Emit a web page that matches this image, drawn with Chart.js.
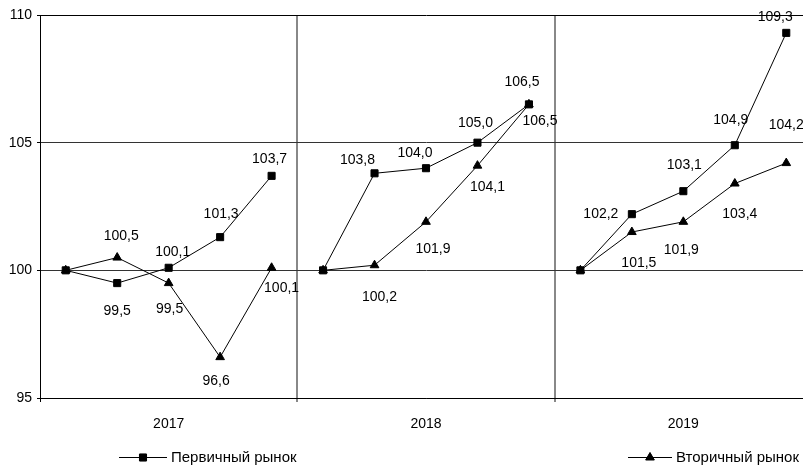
<!DOCTYPE html>
<html>
<head>
<meta charset="utf-8">
<script src="https://cdn.jsdelivr.net/npm/chart.js@4/dist/chart.umd.min.js"></script>
<style>
  html, body { margin: 0; padding: 0; background: #fff; overflow: hidden; }
  #priceChart { position: absolute; left: 0; top: 0; }
</style>
</head>
<body>
<canvas id="priceChart" width="818" height="466"></canvas>
<script>
const categories = ['2017', '2017', '2017', '2017', '2017',
                    '2018', '2018', '2018', '2018', '2018',
                    '2019', '2019', '2019', '2019', '2019'];
const primaryMarket = [100, 99.5, 100.1, 101.3, 103.7, 100, 103.8, 104.0, 105.0, 106.5, 100, 102.2, 103.1, 104.9, 109.3];
const secondaryMarket = [100, 100.5, 99.5, 96.6, 100.1, 100, 100.2, 101.9, 104.1, 106.5, 100, 101.5, 101.9, 103.4, 104.2];
const yTicks = [95, 100, 105, 110];
const seriesNames = ['Первичный рынок', 'Вторичный рынок'];

// label placement relative to the point (style only)
const primaryLabelOffset = [null, [0, 28], [4, -16], [1, -23], [-2, -17],
                            null, [-17, -13], [-11, -15], [-2, -20], [-7, -22],
                            null, [-31, 0], [1, -26], [-4, -25], [-11, -16]];
const secondaryLabelOffset = [null, [4, -21], [1, 26], [-4, 24], [10, 20],
                              null, [5, 32], [7, 27], [10, 21], [11, 17],
                              null, [7, 31], [-2, 28], [5, 31], [0, -38]];

const FONT = '"Liberation Sans", Arial, sans-serif';

document.addEventListener('DOMContentLoaded', function() {
    renderChart();
});

function fmt(v) {
    return v.toFixed(1).replace('.', ',');
}

const valueLabels = {
    id: 'valueLabels',
    afterDatasetsDraw(chart) {
        const ctx = chart.ctx;
        const offsets = [primaryLabelOffset, secondaryLabelOffset];
        ctx.save();
        ctx.font = '14px ' + FONT;
        ctx.fillStyle = '#000';
        ctx.textAlign = 'center';
        ctx.textBaseline = 'middle';
        chart.data.datasets.forEach((ds, i) => {
            const meta = chart.getDatasetMeta(i);
            meta.data.forEach((pt, j) => {
                const off = offsets[i][j];
                if (!off) return;
                ctx.fillText(fmt(ds.data[j]), pt.x + off[0], pt.y + off[1]);
            });
        });
        ctx.restore();
    }
};

const bottomLegend = {
    id: 'bottomLegend',
    afterDraw(chart) {
        const ctx = chart.ctx;
        const items = [
            { x0: 119, x1: 167, style: 'rect', text: seriesNames[0] },
            { x0: 628, x1: 672, style: 'triangle', text: seriesNames[1] }
        ];
        const y = 457.5;
        ctx.save();
        items.forEach(it => {
            ctx.strokeStyle = '#000';
            ctx.lineWidth = 1;
            ctx.beginPath();
            ctx.moveTo(it.x0, y);
            ctx.lineTo(it.x1, y);
            ctx.stroke();
            Chart.helpers.drawPoint(ctx, {
                pointStyle: it.style, radius: 5, borderWidth: 1,
                rotation: 0
            }, (it.x0 + it.x1) / 2, y);
            ctx.fillStyle = '#000';
            ctx.fill();
            ctx.font = '15px ' + FONT;
            ctx.textAlign = 'left';
            ctx.textBaseline = 'middle';
            ctx.fillText(it.text, it.x1 + 4, y);
        });
        ctx.restore();
    }
};

function renderChart() {
    const ctx = document.getElementById('priceChart').getContext('2d');
    const hideGap = c => (c.p0DataIndex % 5 === 4 ? 'rgba(0,0,0,0)' : '#000');

    new Chart(ctx, {
        type: 'line',
        data: {
            labels: categories,
            datasets: [
                {
                    label: seriesNames[0],
                    data: primaryMarket,
                    borderColor: '#000',
                    borderWidth: 1,
                    pointStyle: 'rect',
                    pointRadius: 5,
                    pointBorderWidth: 1,
                    pointBackgroundColor: '#000',
                    pointBorderColor: '#000',
                    tension: 0,
                    segment: { borderColor: hideGap }
                },
                {
                    label: seriesNames[1],
                    data: secondaryMarket,
                    borderColor: '#000',
                    borderWidth: 1,
                    pointStyle: 'triangle',
                    pointRadius: 5,
                    pointBorderWidth: 1,
                    pointBackgroundColor: '#000',
                    pointBorderColor: '#000',
                    tension: 0,
                    segment: { borderColor: hideGap }
                }
            ]
        },
        options: {
            responsive: false,
            animation: false,
            layout: { padding: { left: 0, top: 15, right: 1, bottom: 0 } },
            plugins: {
                legend: { display: false },
                tooltip: { enabled: false }
            },
            scales: {
                x: {
                    offset: true,
                    grid: {
                        offset: true,
                        color: c => (c.index === 5 || c.index === 10 ? '#888' : 'rgba(0,0,0,0)'),
                        lineWidth: c => (c.index === 5 || c.index === 10 ? 2 : 1),
                        tickColor: c => (c.index === 0 ? '#000' : (c.index === 5 || c.index === 10 ? '#888' : 'rgba(0,0,0,0)')),
                        tickLength: 4
                    },
                    border: { display: true, color: '#000', width: 1 },
                    ticks: {
                        autoSkip: false,
                        maxRotation: 0,
                        color: '#000',
                        font: { family: FONT, size: 14 },
                        padding: 14,
                        callback: function(val, i) {
                            return i % 5 === 2 ? this.getLabelForValue(val) : '';
                        }
                    },
                    afterFit: s => { s.height = 68; }
                },
                y: {
                    min: yTicks[0],
                    max: yTicks[yTicks.length - 1],
                    afterBuildTicks: s => { s.ticks = yTicks.map(v => ({ value: v })); },
                    grid: {
                        color: c => (c.index === 3 ? '#000' : '#333'),
                        tickColor: '#000',
                        tickLength: 3
                    },
                    border: { display: true, color: '#000', width: 1 },
                    ticks: {
                        color: '#000',
                        font: { family: FONT, size: 14 },
                        padding: 5
                    },
                    afterFit: s => { s.width = 40; }
                }
            }
        },
        plugins: [valueLabels, bottomLegend]
    });
}
</script>
</body>
</html>
